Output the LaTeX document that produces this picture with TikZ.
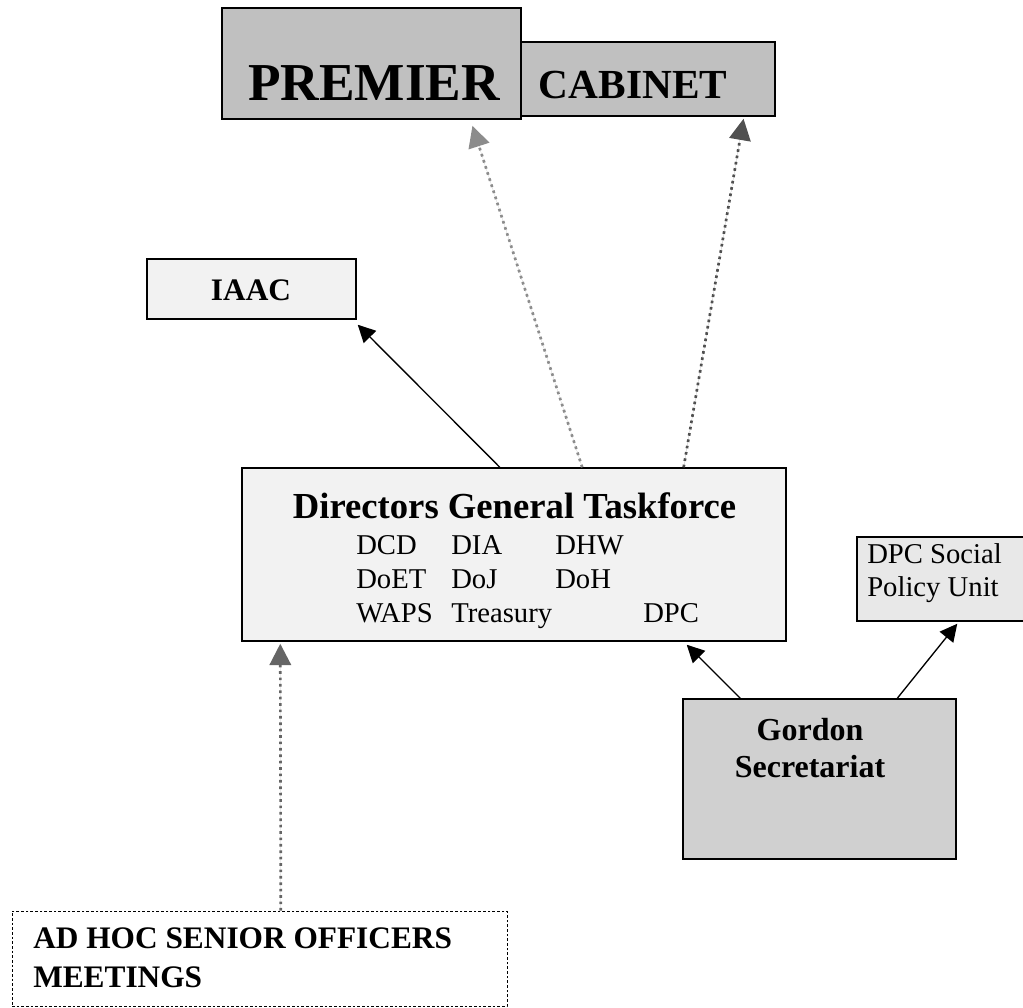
\documentclass[tikz,border=0pt]{standalone}
\usepackage{fontspec}
\setmainfont{Liberation Serif}
\usetikzlibrary{arrows.meta,calc,fit}
\definecolor{topgray}{HTML}{C0C0C0}
\definecolor{palegray}{HTML}{F2F2F2}
\definecolor{dpcgray}{HTML}{E8E8E8}
\definecolor{gordongray}{HTML}{D0D0D0}
\definecolor{lightarrow}{HTML}{8C8C8C}
\definecolor{darkarrow}{HTML}{505050}
\definecolor{midarrow}{HTML}{656565}
\begin{document}
\begin{tikzpicture}[x=0.75pt,y=-0.75pt,
  box/.style={draw=black,line width=1.1pt,inner sep=0pt},
  lbl/.style={inner sep=0pt,anchor=base},
  lbll/.style={inner sep=0pt,anchor=base west},
  solidarr/.style={line width=1pt,-{Triangle[length=13pt,width=13pt]}},
  dotarr/.style={line width=2pt,dash pattern=on 2pt off 2.8pt,-{Triangle[length=16pt,width=16pt]}}
]
\useasboundingbox (0,0) rectangle (1023,1007);

% boxes
\node[box,fill=topgray,fit={(222,8) (521,119)}] (premier) {};
\node[box,fill=topgray,fit={(521,42) (775,116)}] (cabinet) {};
\node[box,fill=palegray,fit={(147,259) (356,319)}] (iaac) {};
\node[box,fill=palegray,fit={(242,468) (786,641)}] (dgt) {};
\node[box,fill=dpcgray,fit={(857,537) (1040,621)}] (dpc) {};
\node[box,fill=gordongray,fit={(683,699) (956,859)}] (gordon) {};
\node[draw=black,line width=0.6pt,dash pattern=on 2pt off 1.5pt,inner sep=0pt,fit={(12,911) (507,1006)}] (adhoc) {};

% texts
\node[lbl,font=\bfseries\fontsize{40}{48}\selectfont] (premiert) at (374,100) {PREMIER};
\node[lbl,font=\bfseries\fontsize{31}{37}\selectfont] (cabinett) at (633,98) {CABINET};
\node[lbl,font=\bfseries\fontsize{23.5}{28}\selectfont] (iaact) at (251,300) {IAAC};
\node[lbl,font=\bfseries\fontsize{27.5}{33}\selectfont] (dgtt) at (514.5,518) {Directors General Taskforce};
\begin{scope}[every node/.style={lbll,font=\fontsize{21.5}{26}\selectfont}]
\node (m1) at (356,554) {DCD};
\node (m2) at (451,554) {DIA};
\node (m3) at (555,554) {DHW};
\node (m4) at (356,588) {DoET};
\node (m5) at (451,588) {DoJ};
\node (m6) at (555,588) {DoH};
\node (m7) at (356,622) {WAPS};
\node (m8) at (451,622) {Treasury};
\node (m9) at (643,622) {DPC};
\node (dpct1) at (867,563) {DPC Social};
\node (dpct2) at (867,596) {Policy Unit};
\end{scope}
\node[lbl,font=\bfseries\fontsize{24}{29}\selectfont] (gordont1) at (810,740) {Gordon};
\node[lbl,font=\bfseries\fontsize{24}{29}\selectfont] (gordont2) at (810,777) {Secretariat};
\node[lbll,font=\bfseries\fontsize{23.5}{28}\selectfont] (adhoct1) at (33,948) {AD HOC SENIOR OFFICERS};
\node[lbll,font=\bfseries\fontsize{23.5}{28}\selectfont] (adhoct2) at (33,987) {MEETINGS};

% connectors
\draw[solidarr] ($(dgt.north west)!0.474!(dgt.north east)$) -- ($(iaac.south east)+(1,5)$);
\draw[dotarr,draw=lightarrow,fill=lightarrow] ($(dgt.north west)!0.625!(dgt.north east)$) -- ($(premier.south west)!0.836!(premier.south east)+(0,6)$);
\draw[dotarr,draw=darkarrow,fill=darkarrow] ($(dgt.north west)!0.811!(dgt.north east)$) -- ($(cabinet.south west)!0.874!(cabinet.south east)+(0,2)$);
\draw[dotarr,draw=midarrow,fill=midarrow] ($(adhoc.north west)!0.543!(adhoc.north east)$) -- ($(dgt.south west)+(39,2)$);
\draw[solidarr] ($(gordon.north west)+(58,0)$) -- ($(dgt.south east)+(-100,3)$);
\draw[solidarr] ($(gordon.north west)+(215,0)$) -- ($(dpc.south west)+(101,2)$);
\end{tikzpicture}
\end{document}
